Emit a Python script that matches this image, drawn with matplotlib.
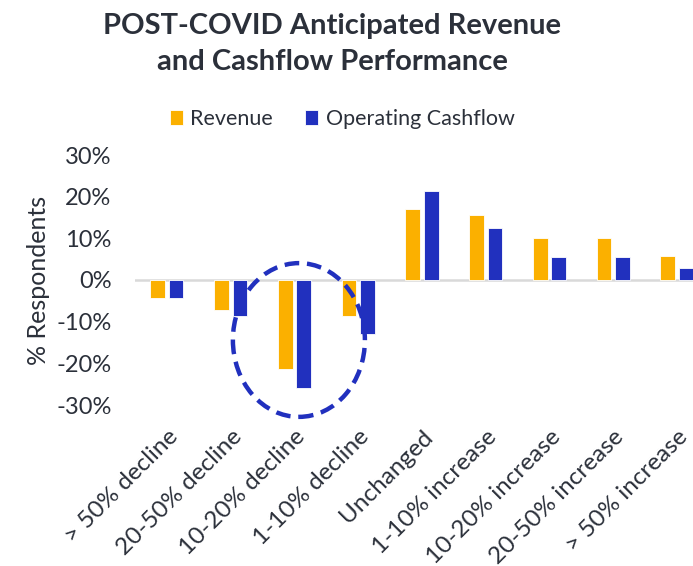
import matplotlib.pyplot as plt
import matplotlib.transforms as mtransforms
from matplotlib.patches import Ellipse
import numpy as np

plt.rcParams['font.family'] = ['Lato', 'DejaVu Sans']

# Data
categories = ['> 50% decline', '20-50% decline', '10-20% decline', '1-10% decline',
              'Unchanged', '1-10% increase', '10-20% increase', '20-50% increase',
              '> 50% increase']
revenue = [-4.3, -7.2, -21.4, -8.6, 17.0, 15.6, 10.0, 10.0, 5.8]
cashflow = [-4.3, -8.6, -25.8, -13.0, 21.3, 12.6, 5.5, 5.5, 2.9]
yticks = [-30, -20, -10, 0, 10, 20, 30]

rev_color = '#FBB000'
cf_color = '#2130BE'
text_color = '#2b303a'

fig = plt.figure(figsize=(6.93, 5.66), dpi=100)
ax = fig.add_axes([135 / 693, 1 - 405 / 566, 558 / 693, 250 / 566])

x = np.arange(len(categories))
w = 0.23
ax.bar(x - 0.145, revenue, w, color=rev_color, edgecolor='white', linewidth=0.6,
       label='Revenue', zorder=3)
ax.bar(x + 0.145, cashflow, w, color=cf_color, edgecolor='white', linewidth=0.6,
       label='Operating Cashflow', zorder=3)

ax.axhline(0, color='#d9d9d9', linewidth=1.8, zorder=2)

ax.set_xlim(-0.5, 8.25)
ax.set_ylim(-30, 30)
ax.set_yticks(yticks)
ax.set_yticklabels([f'{v}%' for v in yticks])
ax.set_xticks(x)
ax.set_xticklabels(categories, rotation=45, ha='right', va='top',
                   rotation_mode='anchor')
# nudge the slanted labels a little to the left
offset = mtransforms.ScaledTranslation(-3 / 100, 0, fig.dpi_scale_trans)
for lbl in ax.get_xticklabels():
    lbl.set_transform(lbl.get_transform() + offset)

ax.tick_params(axis='both', length=0, colors=text_color)
ax.tick_params(axis='x', pad=15, labelsize=17.5)
ax.tick_params(axis='y', pad=17, labelsize=17)
for s in ax.spines.values():
    s.set_visible(False)

ax.set_ylabel('% Respondents', fontsize=18, color=text_color, labelpad=4)

# dashed highlight around the 10-20% decline group
ell = Ellipse((2.07, -14.4), 2.07, 36.9, fill=False, edgecolor=cf_color,
              linewidth=3.2, linestyle=(0, (3.3, 1.75)), clip_on=False, zorder=4)
ax.add_patch(ell)

fig.text(332 / 693, 1 - 44 / 566,
         'POST-COVID Anticipated Revenue\nand Cashflow Performance',
         ha='center', va='center', fontsize=21, fontweight='bold',
         color=text_color, linespacing=1.5)

fig.legend(loc='center', bbox_to_anchor=(342 / 693, 1 - 119 / 566), ncol=2,
           frameon=False, fontsize=15.5, handlelength=0.6, handleheight=0.65,
           handletextpad=0.35, columnspacing=1.5, labelcolor=text_color)

fig.savefig('out.png', dpi=100)
